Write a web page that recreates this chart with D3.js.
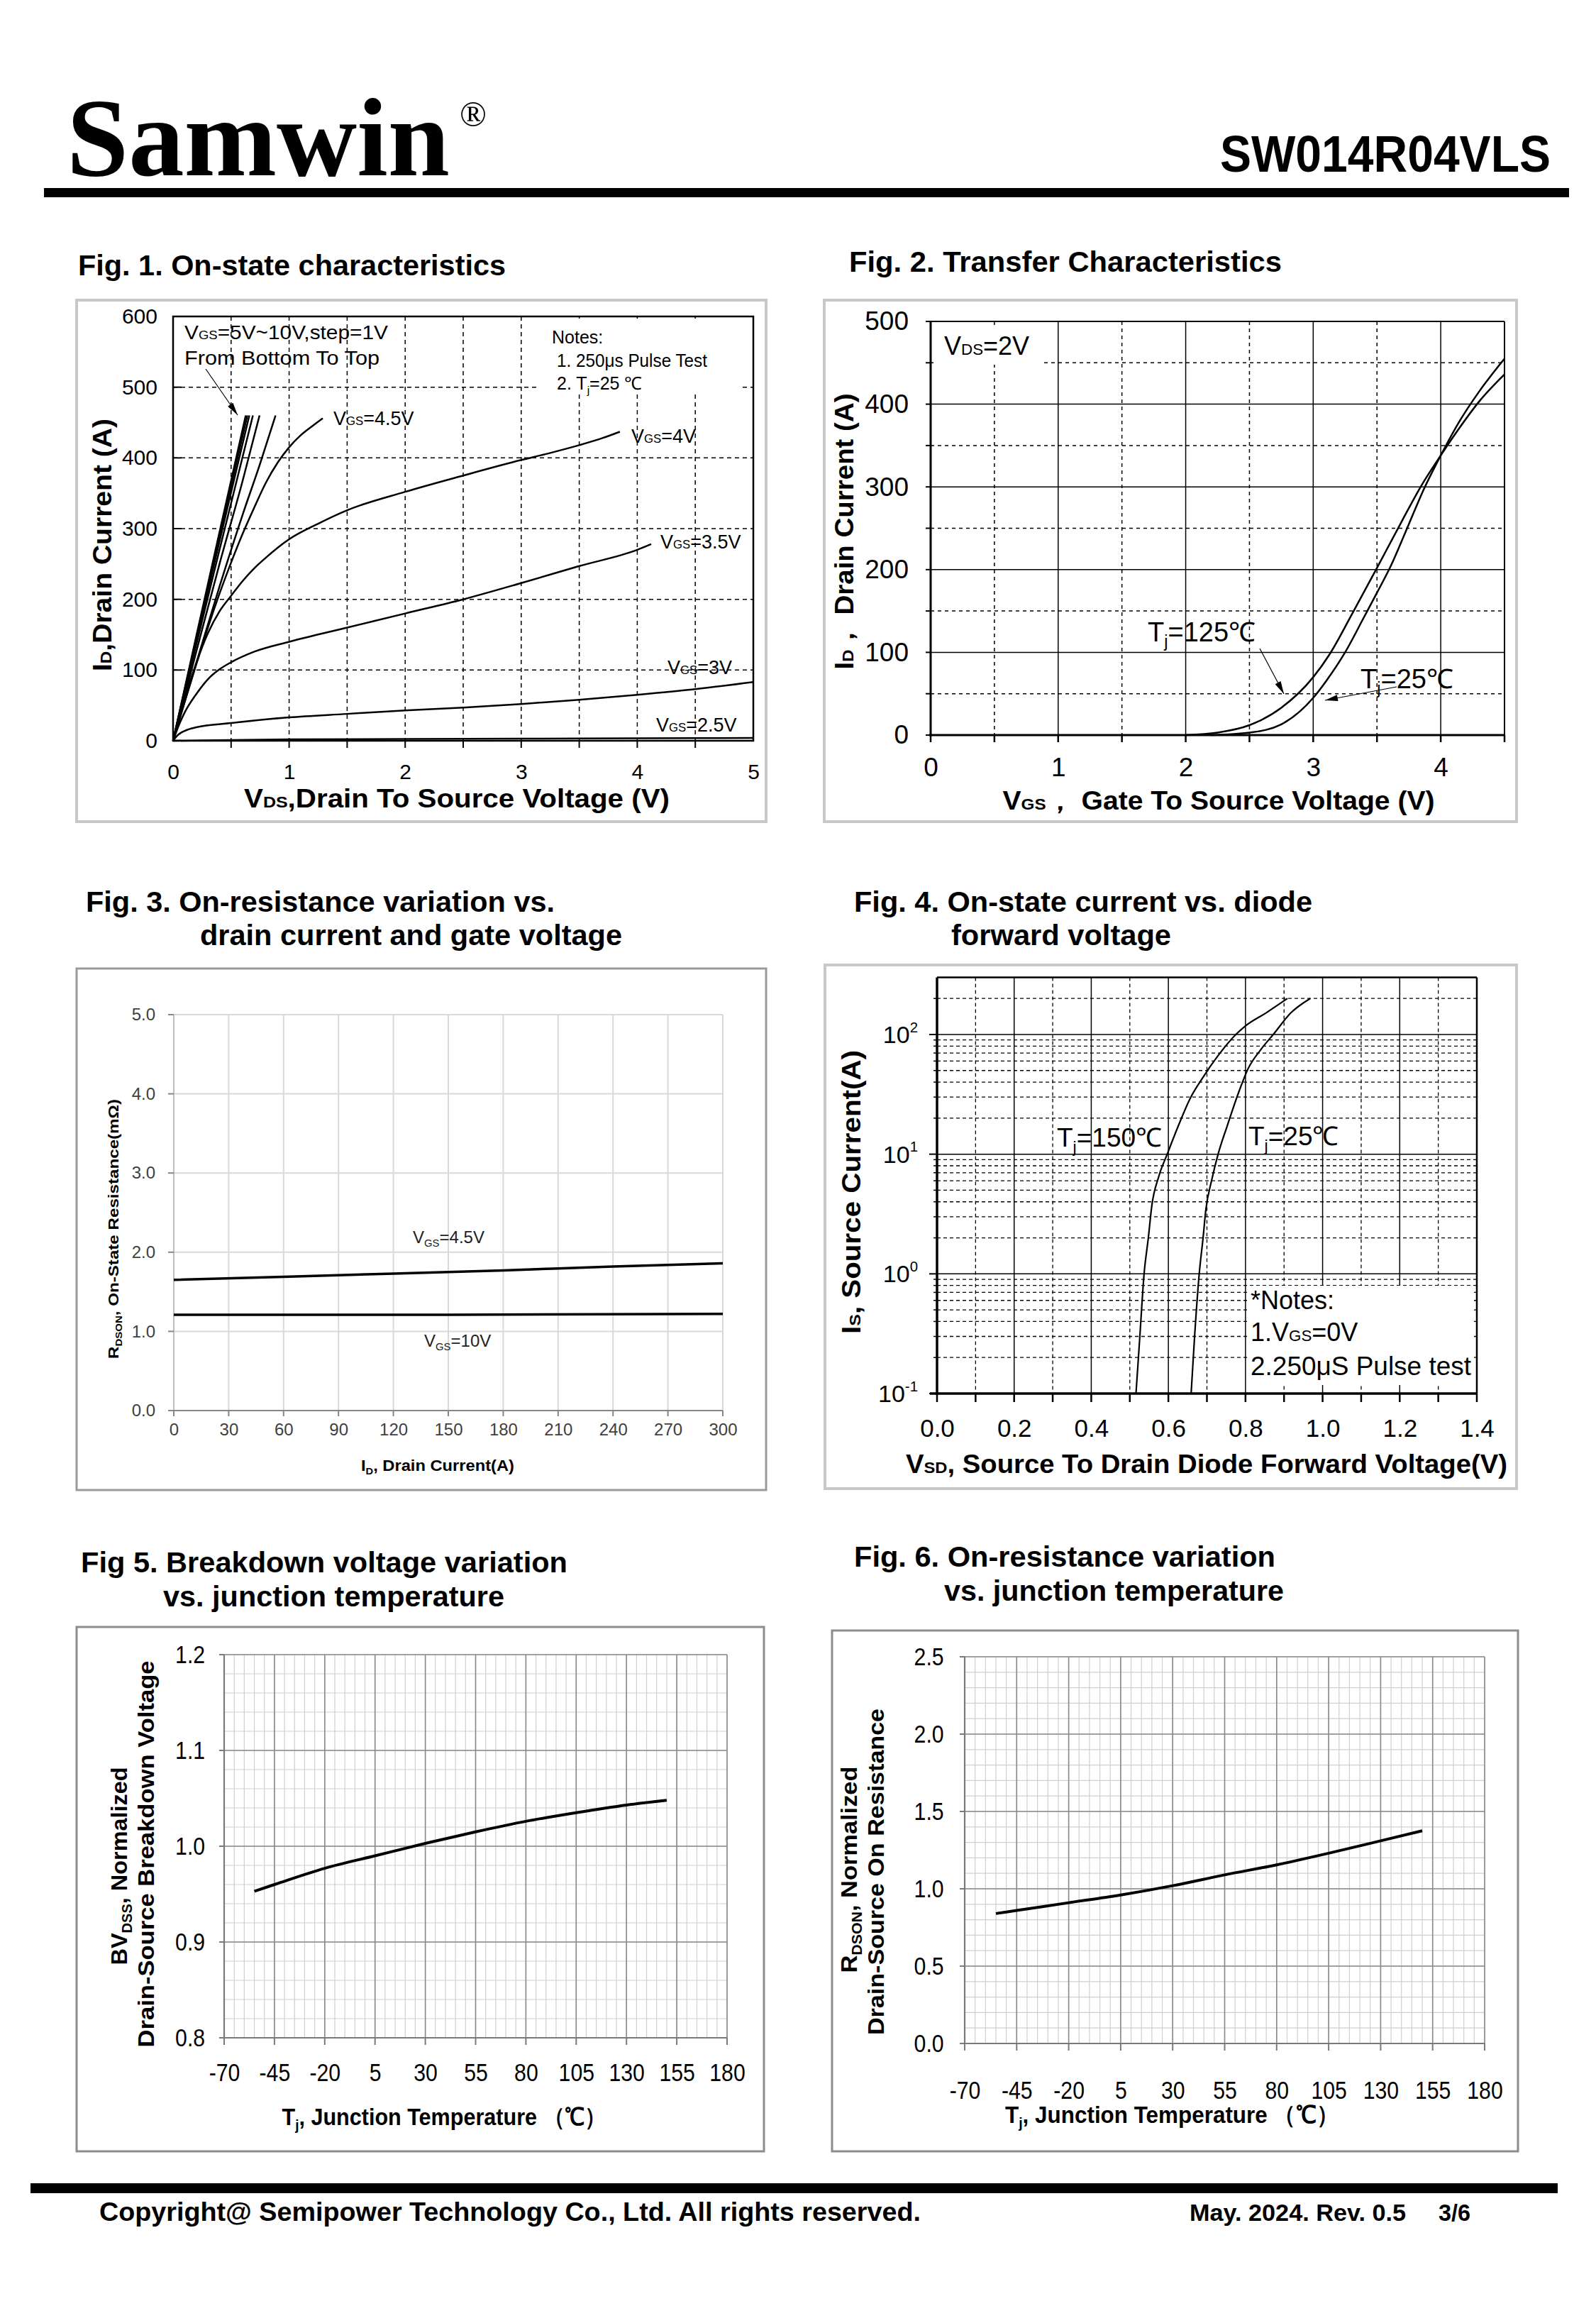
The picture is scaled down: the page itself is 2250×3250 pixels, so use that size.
<!DOCTYPE html>
<html><head><meta charset="utf-8">
<script src="https://cdn.jsdelivr.net/npm/d3@7"></script>
<style>body{margin:0;background:#fff}svg{display:block}text{font-family:Arial,"Liberation Sans",sans-serif;fill:#000}</style>
</head><body><svg id="page" width="2250" height="3250"></svg>
<script>
// ---------------- DATA ----------------
// Fig 1: On-state characteristics (VDS [V], ID [A])
const fig1XTicks = [0, 1, 2, 3, 4, 5];
const fig1YTicks = [0, 100, 200, 300, 400, 500, 600];
const fig1Vgs10 = [[0,0],[0.2,148],[0.4,295],[0.626,460]];
const fig1Vgs9  = [[0,0],[0.2,145],[0.4,289],[0.64,460]];
const fig1Vgs8  = [[0,0],[0.2,142],[0.4,282],[0.657,460]];
const fig1Vgs7  = [[0,0],[0.2,136],[0.4,270],[0.688,460]];
const fig1Vgs6  = [[0,0],[0.2,126],[0.4,250],[0.6,368],[0.745,460]];
const fig1Vgs5  = [[0,0],[0.2,110],[0.4,218],[0.6,320],[0.75,392],[0.883,460]];
const fig1Vgs45 = [[0,0],[0.1,55],[0.2,108],[0.3,160],[0.4,208],[0.5,252],[0.6,293],[0.7,330],[0.8,365],[0.9,393],[1.0,415],[1.1,432],[1.2,445],[1.29,456]];
const fig1Vgs4  = [[0,0],[0.1,60],[0.2,110],[0.3,152],[0.4,183],[0.5,205],[0.6,226],[0.7,244],[0.8,259],[1.0,285],[1.25,307],[1.5,326],[2.0,352],[2.5,375],[3.0,397],[3.25,407],[3.5,418],[3.7,428],[3.85,437]];
const fig1Vgs35 = [[0,0],[0.05,22],[0.1,40],[0.2,66],[0.3,87],[0.4,101],[0.5,111],[0.7,126],[1.0,140],[1.5,160],[2.0,180],[2.5,200],[3.0,223],[3.5,247],[4.0,270],[4.12,278]];
const fig1Vgs3  = [[0,0],[0.04,8],[0.1,14],[0.2,19],[0.5,25],[1.0,33],[1.5,38],[2.0,43],[2.5,47],[3.0,52],[3.5,58],[4.0,65],[4.5,73],[5.0,83]];
const fig1Vgs25 = [[0,0],[0.5,1],[1,2],[2,2.5],[3,3],[4,3.5],[5,4]];

// Fig 2: Transfer characteristics (VGS [V], ID [A])
const fig2XTicks = [0, 1, 2, 3, 4];
const fig2YTicks = [0, 100, 200, 300, 400, 500];
const fig2Tj125 = [[2.0,0],[2.25,3],[2.5,12],[2.75,33],[3.0,70],[3.13,98],[3.3,145],[3.5,202],[3.7,260],[3.85,302],[4.0,338],[4.15,372],[4.3,403],[4.5,436]];
const fig2Tj25  = [[2.2,0],[2.5,3],[2.75,13],[3.0,45],[3.1,65],[3.25,100],[3.4,143],[3.5,172],[3.61,205],[3.75,255],[3.87,298],[4.0,338],[4.15,380],[4.3,415],[4.5,455]];

// Fig 3: RDS(on) vs ID (A, mOhm)
const fig3XTicks = [0, 30, 60, 90, 120, 150, 180, 210, 240, 270, 300];
const fig3YTicks = [0, 1, 2, 3, 4, 5];
const fig3Vgs45 = [[0,1.65],[60,1.69],[120,1.73],[180,1.77],[240,1.82],[300,1.86]];
const fig3Vgs10 = [[0,1.21],[150,1.21],[300,1.22]];

// Fig 4: Body diode (VSD [V], IS [A])
const fig4XTicks = [0, 0.2, 0.4, 0.6, 0.8, 1.0, 1.2, 1.4];
const fig4YDecades = [0.1, 1, 10, 100];
const fig4YExponents = ["-1", "0", "1", "2"];
const fig4YMinor = [0.2,0.3,0.4,0.5,0.6,0.7,0.8,0.9,2,3,4,5,6,7,8,9,20,30,40,50,60,70,80,90,200];
const fig4Tj150 = [[0.516,0.1],[0.526,0.3],[0.537,1],[0.548,2],[0.557,3.7],[0.575,6.5],[0.597,10],[0.625,17],[0.656,29],[0.688,43],[0.728,66],[0.775,100],[0.80,118],[0.854,152],[0.909,200]];
const fig4Tj25  = [[0.659,0.1],[0.668,0.3],[0.680,1],[0.690,2],[0.697,3.4],[0.712,6],[0.729,10],[0.752,17],[0.784,34],[0.807,52],[0.84,75],[0.872,100],[0.918,152],[0.968,200]];

// Fig 5: normalized BVDSS vs Tj
const tempTicks = [-70, -45, -20, 5, 30, 55, 80, 105, 130, 155, 180];
const fig5YTicks = [0.8, 0.9, 1.0, 1.1, 1.2];
const fig5Curve = [[-55,0.953],[-45,0.960],[-20,0.977],[5,0.990],[30,1.003],[55,1.015],[80,1.026],[105,1.035],[130,1.043],[150,1.048]];

// Fig 6: normalized RDS(on) vs Tj
const fig6YTicks = [0.0, 0.5, 1.0, 1.5, 2.0, 2.5];
const fig6Curve = [[-55,0.84],[-45,0.86],[-20,0.91],[5,0.96],[30,1.02],[55,1.09],[80,1.155],[105,1.23],[130,1.31],[150,1.375]];

// ---------------- HELPERS ----------------
const svg = d3.select("#page");
svg.append("rect").attr("width", 2250).attr("height", 3250).attr("fill", "#fff");
const defs = svg.append("defs");
defs.append("marker").attr("id", "arr").attr("viewBox", "0 0 20 10").attr("refX", 20).attr("refY", 5)
  .attr("markerWidth", 20).attr("markerHeight", 9).attr("markerUnits", "userSpaceOnUse").attr("orient", "auto")
  .append("path").attr("d", "M0,0 L20,5 L0,10 Z").attr("fill", "#000");

const plain = d => String(d);

function rich(g, x, y, parts, o) {
  const t = g.append("text").attr("x", x).attr("y", y)
    .attr("font-size", o.size).attr("font-weight", o.bold ? "bold" : "normal")
    .attr("text-anchor", o.anchor || "start");
  if (o.transform) t.attr("transform", o.transform);
  if (o.len) t.attr("textLength", o.len).attr("lengthAdjust", "spacingAndGlyphs");
  if (o.fill) t.style("fill", o.fill);
  let off = 0;
  parts.forEach(p => {
    const s = typeof p === "string" ? p : p[0];
    const k = typeof p === "string" ? "n" : p[1];
    const ts = t.append("tspan").text(s);
    let target = 0;
    if (k === "sc") ts.attr("font-size", o.size * 0.62);
    if (k === "sub") { ts.attr("font-size", o.size * 0.62); target = o.size * 0.22; }
    if (k === "sup") { ts.attr("font-size", o.size * 0.6); target = -o.size * 0.45; }
    if (target - off !== 0) ts.attr("dy", target - off);
    off = target;
  });
  return t;
}
function rotText(g, bx, cy, parts, o) {
  return rich(g, 0, 0, parts, Object.assign({}, o, {anchor: "middle", transform: `translate(${bx},${cy}) rotate(-90)`}));
}
function box(g, x, y, w, h, color, sw) {
  g.append("rect").attr("x", x).attr("y", y).attr("width", w).attr("height", h)
    .attr("fill", "none").attr("stroke", color).attr("stroke-width", sw);
}
function hline(g, x1, x2, y, stroke, sw, dash) {
  const l = g.append("line").attr("x1", x1).attr("x2", x2).attr("y1", y).attr("y2", y)
    .attr("stroke", stroke).attr("stroke-width", sw);
  if (dash) l.attr("stroke-dasharray", dash);
}
function vline(g, x, y1, y2, stroke, sw, dash) {
  const l = g.append("line").attr("x1", x).attr("x2", x).attr("y1", y1).attr("y2", y2)
    .attr("stroke", stroke).attr("stroke-width", sw);
  if (dash) l.attr("stroke-dasharray", dash);
}
function styleAxis(ax, size, fill) {
  ax.select(".domain").remove();
  ax.selectAll(".tick line").remove();
  ax.selectAll("text").attr("font-family", null).attr("font-size", size).style("fill", fill || "#000");
}
function title(g, x, y, str, len) {
  g.append("text").attr("x", x).attr("y", y).attr("font-size", 41).attr("font-weight", "bold")
    .attr("textLength", len).attr("lengthAdjust", "spacingAndGlyphs").text(str);
}

// ---------------- HEADER ----------------
svg.append("text").attr("x", 94).attr("y", 247)
  .style("font-family", "'Liberation Serif','Times New Roman',serif")
  .attr("font-weight", "bold").attr("font-size", 157).attr("textLength", 540).attr("lengthAdjust", "spacingAndGlyphs").text("Samwin");
svg.append("text").attr("x", 648).attr("y", 178).style("font-family", "'Liberation Serif',serif").attr("font-size", 50).text("®");
svg.append("text").attr("x", 1720).attr("y", 242).attr("font-weight", "bold").attr("font-size", 72)
  .attr("textLength", 466).attr("lengthAdjust", "spacingAndGlyphs").text("SW014R04VLS");
svg.append("rect").attr("x", 62).attr("y", 265).attr("width", 2150).attr("height", 13).attr("fill", "#000");

// ---------------- FIG 1 ----------------
{
  const g = svg.append("g");
  title(g, 110, 388, "Fig. 1. On-state characteristics", 603);
  box(g, 108, 423, 972, 735, "#c8c8c8", 4);
  const x = d3.scaleLinear().domain([0, 5]).range([244, 1062]);
  const y = d3.scaleLinear().domain([0, 600]).range([1044, 446]);
  d3.range(0.5, 5, 0.5).forEach(v => vline(g, x(v), y(600), y(0), "#000", 1.5, "6,5"));
  d3.range(100, 600, 100).forEach(v => hline(g, x(0), x(5), y(v), "#000", 1.5, "6,5"));
  // notes block
  g.append("rect").attr("x", 760).attr("y", 449).attr("width", 286).attr("height", 107).attr("fill", "#fff");
  rich(g, 778, 484, ["Notes:"], {size: 25});
  rich(g, 785, 517, ["1. 250μs  Pulse Test"], {size: 25, len: 212});
  rich(g, 785, 549, ["2. T", ["j", "sub"], "=25 ℃"], {size: 25});
  rich(g, 260, 478, ["V", ["GS", "sc"], "=5V~10V,step=1V"], {size: 27, len: 287});
  rich(g, 260, 514, ["From Bottom To Top"], {size: 27, len: 275});
  g.append("line").attr("x1", 290).attr("y1", 520).attr("x2", 335).attr("y2", 585)
    .attr("stroke", "#000").attr("stroke-width", 1.2).attr("marker-end", "url(#arr)");
  box(g, 244, 446, 818, 598, "#000", 2.5);
  // ticks
  d3.range(0.5, 5, 0.5).forEach(v => vline(g, x(v), y(0), y(0) + 10, "#000", 2));
  d3.range(100, 600, 100).forEach(v => hline(g, x(0), x(0) + 12, y(v), "#000", 2));
  const ay = g.append("g").attr("transform", "translate(244,0)")
    .call(d3.axisLeft(y).tickValues(fig1YTicks).tickSize(0).tickPadding(22).tickFormat(plain));
  styleAxis(ay, 30);
  const ax = g.append("g").attr("transform", "translate(0,1044)")
    .call(d3.axisBottom(x).tickValues(fig1XTicks).tickSize(0).tickFormat(plain));
  styleAxis(ax, 30); ax.selectAll("text").attr("y", 54).attr("dy", 0);
  const line = d3.line().x(d => x(d[0])).y(d => y(d[1])).curve(d3.curveMonotoneX);
  [fig1Vgs10, fig1Vgs9, fig1Vgs8, fig1Vgs7, fig1Vgs6, fig1Vgs5, fig1Vgs45, fig1Vgs4, fig1Vgs35, fig1Vgs3, fig1Vgs25]
    .forEach(d => g.append("path").attr("d", line(d)).attr("fill", "none").attr("stroke", "#000").attr("stroke-width", 2.5));
  rich(g, 470, 599, ["V", ["GS", "sc"], "=4.5V"], {size: 27});
  rich(g, 890, 624, ["V", ["GS", "sc"], "=4V"], {size: 27});
  rich(g, 931, 773, ["V", ["GS", "sc"], "=3.5V"], {size: 27});
  rich(g, 941, 950, ["V", ["GS", "sc"], "=3V"], {size: 27});
  rich(g, 925, 1031, ["V", ["GS", "sc"], "=2.5V"], {size: 27});
  rich(g, 644, 1138, ["V", ["DS", "sc"], ",Drain To Source Voltage (V)"], {size: 37, bold: true, anchor: "middle", len: 600});
  rotText(g, 157, 768, ["I", ["D", "sc"], ",Drain Current (A)"], {size: 37, bold: true, len: 356});
}

// ---------------- FIG 2 ----------------
{
  const g = svg.append("g");
  title(g, 1197, 383, "Fig. 2. Transfer Characteristics", 610);
  box(g, 1162, 423, 976, 735, "#c8c8c8", 4);
  const x = d3.scaleLinear().domain([0, 4.5]).range([1312, 2121]);
  const y = d3.scaleLinear().domain([0, 500]).range([1036, 453]);
  [0.5, 1.5, 2.5, 3.5].forEach(v => vline(g, x(v), y(500), y(0), "#000", 1.5, "5,5"));
  [1, 2, 3, 4].forEach(v => vline(g, x(v), y(500), y(0), "#000", 1.5));
  [50, 150, 250, 350, 450].forEach(v => hline(g, x(0), x(4.5), y(v), "#000", 1.5, "5,5"));
  [100, 200, 300, 400].forEach(v => hline(g, x(0), x(4.5), y(v), "#000", 1.5));
  hline(g, x(0), x(4.5), y(500), "#000", 2);
  vline(g, x(4.5), y(500), y(0), "#000", 2);
  hline(g, x(0) - 2, x(4.5), y(0), "#000", 3);
  vline(g, x(0), y(500), y(0) + 2, "#000", 3);
  d3.range(0, 4.51, 0.5).forEach(v => vline(g, x(v), y(0), y(0) + 10, "#000", 2.5));
  d3.range(0, 501, 50).forEach(v => hline(g, x(0) - 7, x(0), y(v), "#000", 2));
  g.append("rect").attr("x", 1316).attr("y", 458).attr("width", 154).attr("height", 56).attr("fill", "#fff");
  rich(g, 1331, 500, ["V", ["DS", "sc"], "=2V"], {size: 36});
  const ay = g.append("g").attr("transform", "translate(1312,0)")
    .call(d3.axisLeft(y).tickValues(fig2YTicks).tickSize(0).tickPadding(31).tickFormat(plain));
  styleAxis(ay, 37);
  const ax = g.append("g").attr("transform", "translate(0,1036)")
    .call(d3.axisBottom(x).tickValues(fig2XTicks).tickSize(0).tickFormat(plain));
  styleAxis(ax, 37); ax.selectAll("text").attr("y", 58).attr("dy", 0);
  const line = d3.line().x(d => x(d[0])).y(d => y(d[1])).curve(d3.curveMonotoneX);
  [fig2Tj125, fig2Tj25].forEach(d => g.append("path").attr("d", line(d)).attr("fill", "none").attr("stroke", "#000").attr("stroke-width", 2.5));
  rich(g, 1618, 904, ["T", ["j", "sub"], "=125℃"], {size: 38});
  rich(g, 1918, 970, ["T", ["j", "sub"], "=25℃"], {size: 38});
  g.append("line").attr("x1", 1776).attr("y1", 914).attr("x2", 1810).attr("y2", 978)
    .attr("stroke", "#000").attr("stroke-width", 1.2).attr("marker-end", "url(#arr)");
  g.append("line").attr("x1", 1969).attr("y1", 968).attr("x2", 1868).attr("y2", 987)
    .attr("stroke", "#000").attr("stroke-width", 1.2).attr("marker-end", "url(#arr)");
  rich(g, 1718, 1141, ["V", ["GS", "sc"], "，  Gate To Source Voltage (V)"], {size: 37, bold: true, anchor: "middle", len: 609});
  rotText(g, 1203, 749, ["I", ["D", "sc"], "，  Drain Current (A)"], {size: 37, bold: true, len: 389});
}

// ---------------- FIG 3 ----------------
{
  const g = svg.append("g");
  title(g, 121, 1285, "Fig. 3. On-resistance variation vs.", 661);
  title(g, 282, 1332, "drain current and gate voltage", 595);
  box(g, 108, 1365, 972, 735, "#9a9a9a", 3);
  const x = d3.scaleLinear().domain([0, 300]).range([245, 1019]);
  const y = d3.scaleLinear().domain([0, 5]).range([1988, 1430]);
  fig3XTicks.slice(1).forEach(v => vline(g, x(v), y(5), y(0), "#d9d9d9", 2));
  fig3YTicks.slice(1).forEach(v => hline(g, x(0), x(300), y(v), "#d9d9d9", 2));
  vline(g, x(0), y(5), y(0), "#bfbfbf", 2);
  hline(g, x(0) - 8, x(300), y(0), "#868686", 2);
  fig3XTicks.forEach(v => vline(g, x(v), y(0), y(0) + 8, "#868686", 2));
  fig3YTicks.forEach(v => hline(g, x(0) - 8, x(0), y(v), "#868686", 2));
  const ay = g.append("g").attr("transform", "translate(245,0)")
    .call(d3.axisLeft(y).tickValues(fig3YTicks).tickSize(0).tickPadding(26).tickFormat(d3.format(".1f")));
  styleAxis(ay, 24, "#404040");
  const ax = g.append("g").attr("transform", "translate(0,1988)")
    .call(d3.axisBottom(x).tickValues(fig3XTicks).tickSize(0).tickFormat(plain));
  styleAxis(ax, 24, "#404040"); ax.selectAll("text").attr("y", 35).attr("dy", 0);
  const line = d3.line().x(d => x(d[0])).y(d => y(d[1])).curve(d3.curveMonotoneX);
  [fig3Vgs45, fig3Vgs10].forEach(d => g.append("path").attr("d", line(d)).attr("fill", "none").attr("stroke", "#000").attr("stroke-width", 3.5));
  rich(g, 582, 1752, ["V", ["GS", "sub"], "=4.5V"], {size: 24, fill: "#222"});
  rich(g, 598, 1898, ["V", ["GS", "sub"], "=10V"], {size: 24, fill: "#222"});
  rich(g, 617, 2073, ["I", ["D", "sub"], ", Drain Current(A)"], {size: 22, bold: true, anchor: "middle", len: 216});
  rotText(g, 167, 1732, ["R", ["DSON", "sub"], ", On-State Resistance(mΩ)"], {size: 21, bold: true, len: 366});
}

// ---------------- FIG 4 ----------------
{
  const g = svg.append("g");
  title(g, 1204, 1285, "Fig. 4. On-state current vs. diode", 646);
  title(g, 1341, 1332, "forward voltage", 310);
  box(g, 1163, 1360, 975, 738, "#c8c8c8", 4);
  const x = d3.scaleLinear().domain([0, 1.4]).range([1321, 2082]);
  const y = d3.scaleLog().domain([0.1, 300]).range([1964, 1377.5]);
  fig4YMinor.forEach(v => hline(g, x(0), x(1.4), y(v), "#000", 1.3, "5,4"));
  [1, 10, 100].forEach(v => hline(g, x(0), x(1.4), y(v), "#000", 1.5));
  [0.1, 0.3, 0.5, 0.7, 0.9, 1.1, 1.3].forEach(v => vline(g, x(v), y(300), y(0.1), "#000", 1.3, "5,4"));
  [0.2, 0.4, 0.6, 0.8, 1.0, 1.2].forEach(v => vline(g, x(v), y(300), y(0.1), "#000", 1.5));
  hline(g, x(0), x(1.4), y(300), "#000", 2.5);
  vline(g, x(1.4), y(300), y(0.1), "#000", 2.5);
  // notes block
  g.append("rect").attr("x", 1758).attr("y", 1812).attr("width", 320).attr("height", 140).attr("fill", "#fff");
  hline(g, x(0) - 10, x(1.4), y(0.1), "#000", 3.5);
  vline(g, x(0), y(300), y(0.1) + 2, "#000", 3.5);
  d3.range(0, 1.401, 0.1).forEach(v => vline(g, x(v), y(0.1), y(0.1) + 12, "#000", 2.5));
  fig4YDecades.forEach(v => hline(g, x(0) - 11, x(0), y(v), "#000", 2));
  fig4YMinor.forEach(v => hline(g, x(0) - 5, x(0), y(v), "#000", 1.5));
  const ax = g.append("g").attr("transform", "translate(0,1964)")
    .call(d3.axisBottom(x).tickValues(fig4XTicks).tickSize(0).tickFormat(d3.format(".1f")));
  styleAxis(ax, 35); ax.selectAll("text").attr("y", 61).attr("dy", 0);
  fig4YDecades.forEach((v, i) => rich(g, 1294, y(v) + 12, ["10", [fig4YExponents[i], "sup"]], {size: 34, anchor: "end"}));
  const line = d3.line().x(d => x(d[0])).y(d => y(d[1])).curve(d3.curveMonotoneX);
  [fig4Tj150, fig4Tj25].forEach(d => g.append("path").attr("d", line(d)).attr("fill", "none").attr("stroke", "#000").attr("stroke-width", 2.2));
  rich(g, 1490, 1616, ["T", ["j", "sub"], "=150℃"], {size: 37});
  rich(g, 1760, 1614, ["T", ["j", "sub"], "=25℃"], {size: 37});
  rich(g, 1763, 1845, ["*Notes:"], {size: 36});
  rich(g, 1763, 1890, ["1.V", ["GS", "sc"], "=0V"], {size: 36});
  rich(g, 1763, 1938, ["2.250μS Pulse test"], {size: 36, len: 311});
  rich(g, 1701, 2076, ["V", ["SD", "sc"], ", Source To Drain Diode Forward Voltage(V)"], {size: 37, bold: true, anchor: "middle", len: 848});
  rotText(g, 1213, 1680, ["I", ["S", "sc"], ", Source Current(A)"], {size: 37, bold: true, len: 400});
}

// ---------------- FIG 5 / FIG 6 ----------------
function tempChart(c) {
  const g = svg.append("g");
  title(g, c.t1[0], c.t1[1], c.t1[2], c.t1[3]);
  title(g, c.t2[0], c.t2[1], c.t2[2], c.t2[3]);
  box(g, c.box[0], c.box[1], c.box[2], c.box[3], "#8c8c8c", 3);
  const x = d3.scaleLinear().domain([-70, 180]).range([c.px0, c.px1]);
  const y = d3.scaleLinear().domain(c.yDom).range([c.py1, c.py0]);
  d3.range(-70, 181, 5).forEach(v => vline(g, x(v), c.py0, c.py1, "#cfcfcf", 1.2));
  d3.range(0, 51).forEach(i => { const v = c.yDom[0] + i * c.yMinor; if (v <= c.yDom[1] + 1e-9) hline(g, c.px0, c.px1, y(v), "#cfcfcf", 1.2); });
  tempTicks.forEach(v => vline(g, x(v), c.py0, c.py1, "#8a8a8a", 1.6));
  c.yTicks.forEach(v => hline(g, c.px0, c.px1, y(v), "#8a8a8a", 1.6));
  hline(g, c.px0, c.px1, c.py1, "#7a7a7a", 2.2);
  vline(g, c.px0, c.py0, c.py1, "#7a7a7a", 2.2);
  tempTicks.forEach(v => vline(g, x(v), c.py1, c.py1 + 10, "#7a7a7a", 2));
  c.yTicks.forEach(v => hline(g, c.px0 - 7, c.px0, y(v), "#7a7a7a", 2));
  const ay = g.append("g").attr("transform", `translate(${c.px0},0)`)
    .call(d3.axisLeft(y).tickValues(c.yTicks).tickSize(0).tickPadding(c.ypad).tickFormat(d3.format(".1f")));
  styleAxis(ay, 36);
  ay.selectAll("text").attr("transform", "scale(0.84,1)");
  const ax = g.append("g").attr("transform", `translate(0,${c.py1})`)
    .call(d3.axisBottom(x).tickValues(tempTicks).tickSize(0).tickFormat(plain));
  styleAxis(ax, 36); ax.selectAll("text").attr("y", c.xlab - c.py1).attr("dy", 0).attr("transform", "scale(0.84,1)");
  const line = d3.line().x(d => x(d[0])).y(d => y(d[1])).curve(d3.curveMonotoneX);
  g.append("path").attr("d", line(c.data)).attr("fill", "none").attr("stroke", "#000").attr("stroke-width", 4);
  rich(g, c.xt[0], c.xt[1], ["T", ["j", "sub"], ", Junction Temperature （℃）"], {size: 34, bold: true, anchor: "middle", len: c.xt[2]});
  rotText(g, c.yt1[0], c.yt1[1], c.yt1Parts, {size: 32, bold: true, len: c.yt1[2]});
  rotText(g, c.yt2[0], c.yt2[1], [c.yt2Text], {size: 32, bold: true, len: c.yt2[2]});
}
tempChart({
  t1: [114, 2216, "Fig 5. Breakdown voltage variation", 686],
  t2: [230, 2264, "vs. junction temperature", 481],
  box: [108, 2293, 969, 739],
  px0: 316, px1: 1025, py0: 2332, py1: 2872, yDom: [0.8, 1.2], yMinor: 0.02, yTicks: fig5YTicks,
  ypad: 32, xlab: 2933, data: fig5Curve,
  xt: [626, 2995, 457],
  yt1: [179, 2630, 279], yt1Parts: ["BV", ["DSS", "sub"], ", Normalized"],
  yt2: [217, 2613, 545], yt2Text: "Drain-Source Breakdown Voltage"
});
tempChart({
  t1: [1204, 2208, "Fig. 6. On-resistance variation", 594],
  t2: [1331, 2256, "vs. junction temperature", 479],
  box: [1173, 2298, 967, 734],
  px0: 1360, px1: 2093, py0: 2335, py1: 2880, yDom: [0, 2.5], yMinor: 0.1, yTicks: fig6YTicks,
  ypad: 35, xlab: 2958, data: fig6Curve,
  xt: [1652, 2992, 470],
  yt1: [1208, 2635, 291], yt1Parts: ["R", ["DSON", "sub"], ", Normalized"],
  yt2: [1246, 2638, 460], yt2Text: "Drain-Source On Resistance"
});

// ---------------- FOOTER ----------------
svg.append("rect").attr("x", 43).attr("y", 3077).attr("width", 2153).attr("height", 14).attr("fill", "#000");
svg.append("text").attr("x", 140).attr("y", 3130).attr("font-weight", "bold").attr("font-size", 37)
  .attr("textLength", 1158).attr("lengthAdjust", "spacingAndGlyphs").text("Copyright@ Semipower Technology Co., Ltd. All rights reserved.");
svg.append("text").attr("x", 1677).attr("y", 3130).attr("font-weight", "bold").attr("font-size", 33)
  .attr("textLength", 305).attr("lengthAdjust", "spacingAndGlyphs").text("May. 2024. Rev. 0.5");
svg.append("text").attr("x", 2028).attr("y", 3130).attr("font-weight", "bold").attr("font-size", 33)
  .attr("textLength", 45).attr("lengthAdjust", "spacingAndGlyphs").text("3/6");
</script></body></html>
